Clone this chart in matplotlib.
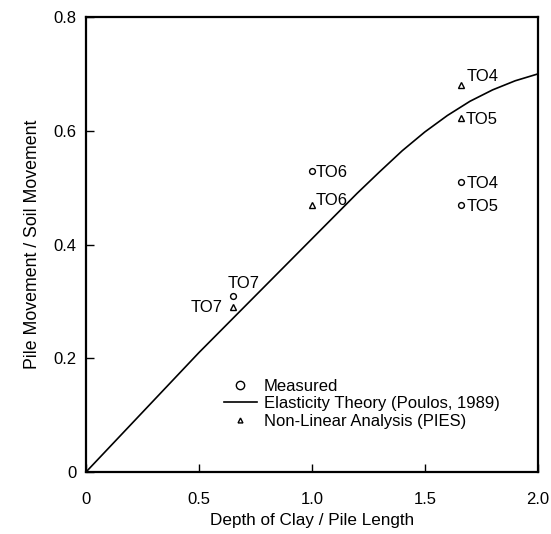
import matplotlib
matplotlib.use("Agg")
import matplotlib.pyplot as plt
from matplotlib.lines import Line2D

plt.rcParams['font.family'] = ['Liberation Sans', 'DejaVu Sans']

# Elasticity theory curve (Poulos, 1989)
theory_x = [0, 0.5, 1.0, 1.2, 1.3, 1.4, 1.5, 1.6, 1.7, 1.8, 1.9, 2.0]
theory_y = [0, 0.21, 0.41, 0.49, 0.528, 0.565, 0.598, 0.627, 0.652, 0.672, 0.688, 0.70]

# Measured values
meas_names = ["TO7", "TO6", "TO4", "TO5"]
meas_x = [0.65, 1.0, 1.66, 1.66]
meas_y = [0.31, 0.53, 0.51, 0.47]

# Non-linear analysis (PIES)
pies_names = ["TO7", "TO6", "TO4", "TO5"]
pies_x = [0.65, 1.0, 1.66, 1.66]
pies_y = [0.29, 0.47, 0.68, 0.622]

x_ticks = [0, 0.5, 1.0, 1.5, 2.0]
x_ticklabels = ["0", "0.5", "1.0", "1.5", "2.0"]
y_ticks = [0, 0.2, 0.4, 0.6, 0.8]
y_ticklabels = ["0", "0.2", "0.4", "0.6", "0.8"]

fig = plt.figure(figsize=(5.51, 5.34), dpi=100)
ax = fig.add_axes([0.156, 0.116, 0.82, 0.852])

ax.plot(theory_x, theory_y, color="black", lw=1.2)
ax.plot(meas_x, meas_y, ls="none", marker="o", ms=4.2, mfc="white",
        mec="black", mew=1.0)
ax.plot(pies_x, pies_y, ls="none", marker="^", ms=4.5, mfc="white",
        mec="black", mew=1.0)

# point labels: (dx, dy) in points, horizontal alignment
meas_offsets = [((-4, 9), "left"), ((3, -1), "left"),
                ((4, -1), "left"), ((4, -1), "left")]
pies_offsets = [((-7, 0), "right"), ((3, 3), "left"),
                ((4, 6), "left"), ((3, -1), "left")]

for name, x, y, (off, ha) in zip(meas_names, meas_x, meas_y, meas_offsets):
    ax.annotate(name, (x, y), xytext=off, textcoords="offset points",
                ha=ha, va="center", fontsize=12)
for name, x, y, (off, ha) in zip(pies_names, pies_x, pies_y, pies_offsets):
    ax.annotate(name, (x, y), xytext=off, textcoords="offset points",
                ha=ha, va="center", fontsize=12)

ax.set_xlim(0, 2.0)
ax.set_ylim(0, 0.8)
ax.set_xticks(x_ticks)
ax.set_xticklabels(x_ticklabels)
ax.set_yticks(y_ticks)
ax.set_yticklabels(y_ticklabels)
ax.tick_params(direction="in", length=6, width=1.0, labelsize=12)
ax.tick_params(axis="x", pad=14)
ax.tick_params(axis="y", pad=7)

for spine in ax.spines.values():
    spine.set_linewidth(1.6)

ax.set_xlabel("Depth of Clay / Pile Length", fontsize=12.3, labelpad=5)
ax.set_ylabel("Pile Movement / Soil Movement", fontsize=12.8, labelpad=9)

handles = [
    Line2D([], [], ls="none", marker="o", ms=6, mfc="white", mec="black", mew=1.0),
    Line2D([], [], color="black", lw=1.2),
    Line2D([], [], ls="none", marker="^", ms=3.5, mfc="white", mec="black", mew=1.0),
]
labels = ["Measured", "Elasticity Theory (Poulos, 1989)", "Non-Linear Analysis (PIES)"]
ax.legend(handles, labels, loc="upper left", bbox_to_anchor=(0.305, 0.205),
          frameon=False, fontsize=12, handlelength=2.0, handletextpad=0.4,
          labelspacing=0.15, borderpad=0, borderaxespad=0)

fig.savefig("out.png", dpi=100)
